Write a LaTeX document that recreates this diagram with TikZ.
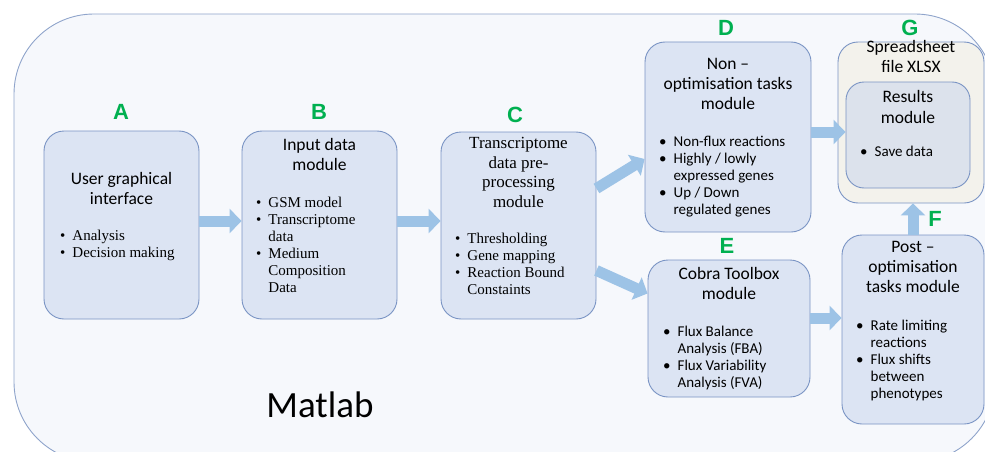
\documentclass[tikz,border=0pt]{standalone}
\usepackage{fontspec}
\setmainfont{Liberation Serif}
\newfontfamily\calfont{Carlito}
\newfontfamily\arlfont{Liberation Sans}
\usetikzlibrary{arrows.meta}
\definecolor{boxfill}{HTML}{DCE4F3}
\definecolor{boxline}{HTML}{7A94C4}
\definecolor{outerfill}{HTML}{F6F8FC}
\definecolor{outerline}{HTML}{8FA4CB}
\definecolor{xlsfill}{HTML}{F3F2EC}
\definecolor{resfill}{HTML}{DCE2EC}
\definecolor{arrowblue}{HTML}{9DC3E6}
\definecolor{lettergreen}{HTML}{00B050}
\newcommand{\ttl}[1]{\begin{tabular}{@{}c@{}}#1\end{tabular}}
\newcommand{\blist}[1]{\begin{tabular}{@{}l@{\hspace{7pt}}l@{}}#1\end{tabular}}
\tikzset{
  module/.style={draw=boxline, fill=boxfill, line width=0.9pt, rounded corners=20pt, inner sep=0pt},
  titlesans/.style={font=\calfont\fontsize{17.5}{20}\selectfont, inner sep=0pt},
  titleserif/.style={font=\fontsize{17}{19.5}\selectfont, inner sep=0pt},
  itemsans/.style={font=\calfont\fontsize{15}{17}\selectfont, anchor=west, inner sep=0pt},
  itemserif/.style={font=\fontsize{15}{17}\selectfont, anchor=west, inner sep=0pt},
  letter/.style={font=\arlfont\bfseries\fontsize{22}{26}\selectfont, text=lettergreen, inner sep=0pt},
  flow/.style={draw=arrowblue, line width=11pt, -{Triangle[length=12pt,width=24pt]}}
}
\begin{document}
\begin{tikzpicture}[x=1pt,y=-1pt]
\useasboundingbox (0,0) rectangle (985,452);
% container
\draw[draw=outerline, fill=outerfill, line width=0.9pt, rounded corners=80pt] (14,14) rectangle (995,462);
\node[font=\calfont\fontsize{37}{44}\selectfont, inner sep=0pt] (matlab) at (320,405) {Matlab};

% module boxes
\node[module, minimum width=155pt, minimum height=188pt] (A) at (121.5,225) {};
\node[module, minimum width=155pt, minimum height=188pt] (B) at (319.5,225) {};
\node[module, minimum width=155pt, minimum height=187pt] (C) at (518.5,225.5) {};
\node[module, minimum width=166pt, minimum height=190pt] (D) at (728,137) {};
\node[module, minimum width=162pt, minimum height=137pt] (E) at (729,328.5) {};
\node[module, minimum width=142pt, minimum height=189pt] (F) at (913,329.5) {};
\node[draw=boxline, fill=xlsfill, line width=0.9pt, rounded corners=20pt, inner sep=0pt,
      minimum width=146pt, minimum height=161pt] (G) at (911,122.5) {};
\node[draw=boxline, fill=resfill, line width=0.9pt, rounded corners=18pt, inner sep=0pt,
      minimum width=124pt, minimum height=106pt] (R) at (908,135) {};

% letters
\node[letter] (la) at (121,112) {A};
\node[letter] (lb) at (319,112) {B};
\node[letter] (lc) at (515,115) {C};
\node[letter] (ld) at (726,28) {D};
\node[letter] (le) at (727,246) {E};
\node[letter] (lf) at (935,219) {F};
\node[letter] (lg) at (910,28) {G};

% texts A
\node[titlesans] (ta) at (121.5,190) {\ttl{User graphical\\interface}};
\node[itemserif] (ia) at (60,246) {\blist{\textbullet & Analysis\\ \textbullet & Decision making}};
% texts B
\node[titlesans] (tb) at (319.5,156) {\ttl{Input data\\module}};
\node[itemserif] (ib) at (256,247) {\blist{\textbullet & GSM model\\ \textbullet & Transcriptome\\ & data\\ \textbullet & Medium\\ & Composition\\ & Data}};
% texts C
\node[titleserif] (tc) at (518.5,174) {\ttl{Transcriptome\\data pre-\\processing\\module}};
\node[itemserif] (ic) at (455,266) {\blist{\textbullet & Thresholding\\ \textbullet & Gene mapping\\ \textbullet & Reaction Bound\\ & Constaints}};
% texts D
\node[titlesans] (td) at (728,85.5) {\ttl{Non –\\optimisation tasks\\module}};
\node[itemsans] (id) at (659,177.5) {\blist{\textbullet & Non-flux reactions\\ \textbullet & Highly / lowly\\ & expressed genes\\ \textbullet & Up / Down\\ & regulated genes}};
% texts E
\node[titlesans] (te) at (729,285.5) {\ttl{Cobra Toolbox\\module}};
\node[itemsans] (ie) at (663,359) {\blist{\textbullet & Flux Balance\\ & Analysis (FBA)\\ \textbullet & Flux Variability\\ & Analysis (FVA)}};
% texts F
\node[titlesans] (tf) at (913,268.5) {\ttl{Post –\\optimisation\\tasks module}};
\node[itemsans] (if) at (856,361) {\blist{\textbullet & Rate limiting\\ & reactions\\ \textbullet & Flux shifts\\ & between\\ & phenotypes}};
% texts G / Results
\node[titlesans] (tg) at (911,59) {\ttl{Spreadsheet\\file XLSX}};
\node[titlesans] (tr) at (908,109) {\ttl{Results\\module}};
\node[itemsans] (ir) at (860,153) {\blist{\textbullet & Save data}};

% flow arrows
\draw[flow] ([yshift=4pt]A.east) -- ([yshift=4pt]A.east -| B.west);
\draw[flow] ([yshift=4pt]B.east) -- ([yshift=4pt]B.east -| C.west);
\draw[flow] ([yshift=37pt]C.east) -- ([yshift=-22pt]D.west);
\draw[flow] ([yshift=-45pt]C.east) -- ([yshift=35pt]E.west);
\draw[flow] ([yshift=5pt]D.east) -- ([yshift=5pt]D.east -| R.west);
\draw[flow] ([yshift=10.5pt]E.east) -- ([yshift=10.5pt]E.east -| F.west);
\draw[flow] (F.north) -- (F.north |- G.south);
\end{tikzpicture}
\end{document}
